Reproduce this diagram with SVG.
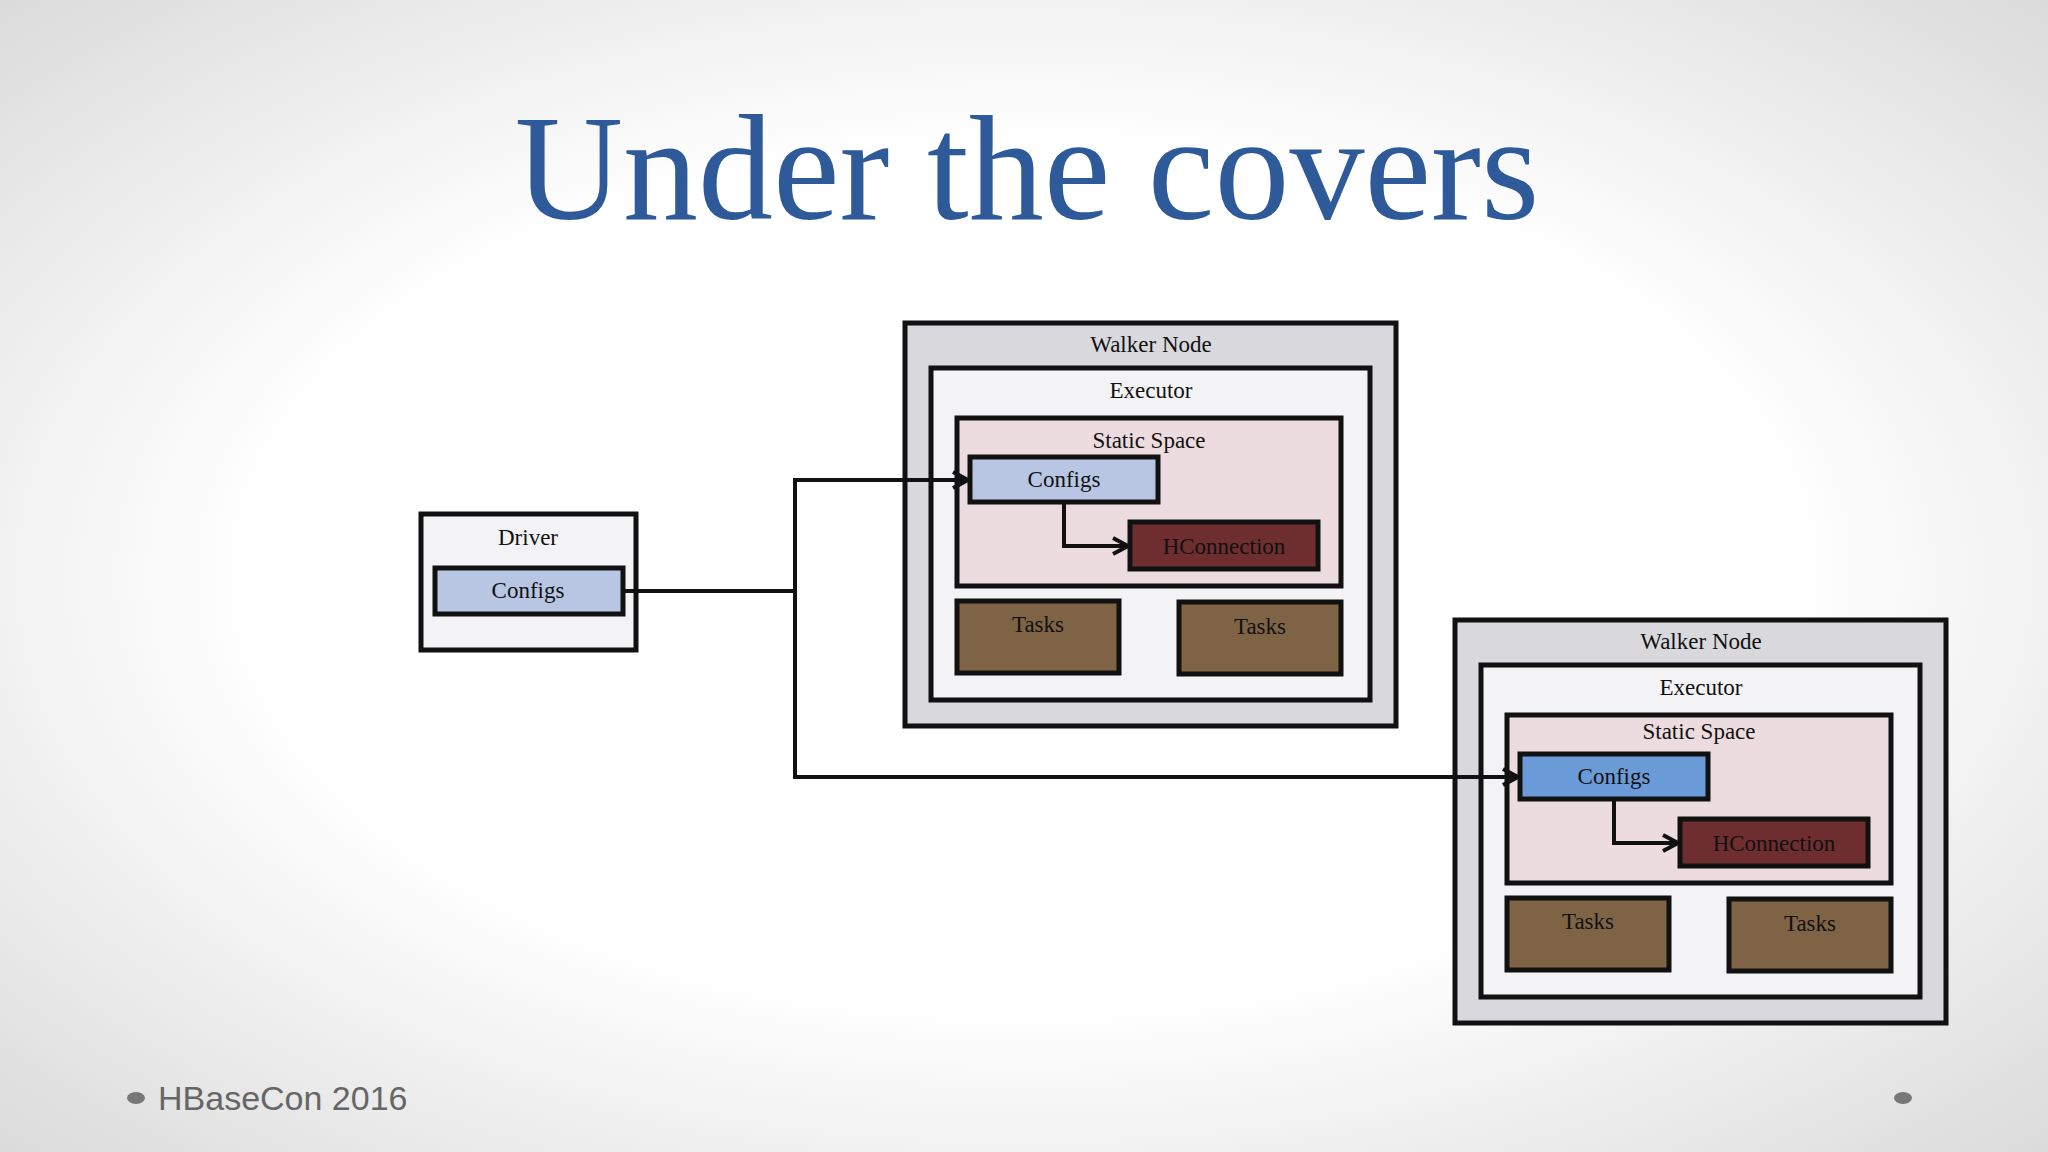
<svg xmlns="http://www.w3.org/2000/svg" width="2048" height="1152" viewBox="0 0 2048 1152">
<defs>
<radialGradient id="bg" cx="50%" cy="50%" r="75%"><stop offset="0.5" stop-color="#ffffff"/><stop offset="1" stop-color="#d6d6d6"/></radialGradient>
<marker id="ar" viewBox="0 0 20 20" refX="18" refY="10" markerWidth="20" markerHeight="20" markerUnits="userSpaceOnUse" orient="auto"><path d="M3,2 L18,10 L3,18" fill="none" stroke="#111" stroke-width="4"/></marker>
<style>
.b{stroke:#111;stroke-width:5}
.wn{fill:#d9d8dc}.ex{fill:#f3f2f4}.ss{fill:#ecdcdf}.cf{fill:#b8c6e3}.cf2{fill:#6a9bd8}.hc{fill:#6e2e30}.tk{fill:#7e6445}
text{font-family:"Liberation Serif",serif;font-size:23px;fill:#111;text-anchor:middle}
.c{fill:none;stroke:#111;stroke-width:4}
</style>
</defs>
<rect width="2048" height="1152" fill="url(#bg)"/>
<text x="1027" y="219" style="font-size:150px;fill:#2e5a9a">Under the covers</text>
<g id="driver"><rect class="b ex" x="421" y="514" width="215" height="136"/><text x="528" y="545">Driver</text></g>
<g id="driver-configs"><rect class="b cf" x="435" y="568" width="188" height="46"/><text x="528" y="598">Configs</text></g>
<g id="walker1">
<rect class="b wn" x="905" y="323" width="491" height="403"/><text x="1151" y="352">Walker Node</text>
<rect class="b ex" x="931" y="368" width="439" height="332"/><text x="1151" y="398">Executor</text>
<rect class="b ss" x="957" y="418" width="384" height="168"/><text x="1149" y="448">Static Space</text>
<rect class="b cf" x="970" y="457" width="188" height="45"/><text x="1064" y="487">Configs</text>
<rect class="b hc" x="1130" y="522" width="188" height="47"/><text x="1224" y="554">HConnection</text>
<rect class="b tk" x="957" y="601" width="162" height="72"/><text x="1038" y="632">Tasks</text>
<rect class="b tk" x="1179" y="602" width="162" height="72"/><text x="1260" y="634">Tasks</text>
</g>
<g id="walker2" transform="translate(550,297)">
<rect class="b wn" x="905" y="323" width="491" height="403"/><text x="1151" y="352">Walker Node</text>
<rect class="b ex" x="931" y="368" width="439" height="332"/><text x="1151" y="398">Executor</text>
<rect class="b ss" x="957" y="418" width="384" height="168"/><text x="1149" y="442">Static Space</text>
<rect class="b cf2" x="970" y="457" width="188" height="45"/><text x="1064" y="487">Configs</text>
<rect class="b hc" x="1130" y="522" width="188" height="47"/><text x="1224" y="554">HConnection</text>
<rect class="b tk" x="957" y="601" width="162" height="72"/><text x="1038" y="632">Tasks</text>
<rect class="b tk" x="1179" y="602" width="162" height="72"/><text x="1260" y="634">Tasks</text>
</g>
<g id="connectors">
<path class="c" d="M623,591 H795 V480 H968" marker-end="url(#ar)"/>
<path class="c" d="M795,591 V777 H1518" marker-end="url(#ar)"/>
<path class="c" d="M1064,502 V546 H1128" marker-end="url(#ar)"/>
<path class="c" d="M1614,799 V843 H1678" marker-end="url(#ar)"/>
</g>
<ellipse cx="136" cy="1098" rx="9" ry="6" fill="#777"/>
<ellipse cx="1903" cy="1098" rx="9" ry="6" fill="#777"/>
<text x="158" y="1110" style="font-family:'Liberation Sans',sans-serif;font-size:34px;fill:#666;text-anchor:start">HBaseCon 2016</text>
</svg>
